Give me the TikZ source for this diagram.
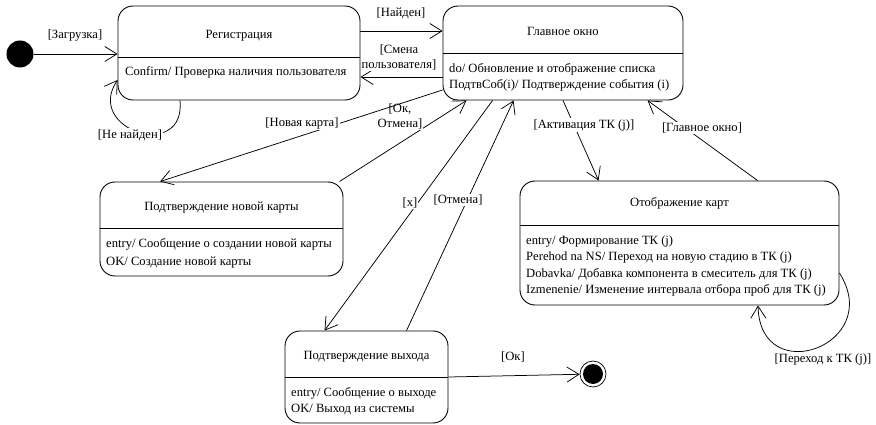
\documentclass[tikz,border=0pt]{standalone}
\usepackage{fontspec}
\setmainfont{Liberation Serif}
\usetikzlibrary{arrows.meta}

\begin{document}
\begin{tikzpicture}[x=1pt,y=-1pt,
  state/.style={draw, line width=0.9pt, rounded corners=15pt, inner sep=0pt},
  divider/.style={line width=0.9pt},
  txt/.style={font=\fontsize{12.6}{15}\selectfont, inner sep=0pt},
  lbl/.style={font=\fontsize{12.6}{15}\selectfont, inner sep=1pt, fill=white, align=center},
  tr/.style={line width=0.75pt, -{Straight Barb[length=12pt,width=15pt]}},
]
\useasboundingbox (0,0) rectangle (876,425);

% ---------- states ----------
\node[circle, fill, minimum size=27pt, inner sep=0pt] (init) at (20,54) {};

\node[state, minimum width=242pt, minimum height=94pt] (reg) at (239,53) {};
\draw[divider] (reg.west |- 0,57) -- (reg.east |- 0,57);
\node[txt, anchor=base] (regT) at (239,39) {Регистрация};
\node[txt, anchor=base west] (regB) at (125,76) {Confirm/ Проверка наличия пользователя};

\node[state, minimum width=240pt, minimum height=94pt] (main) at (563,53) {};
\draw[divider] (main.west |- 0,53) -- (main.east |- 0,53);
\node[txt, anchor=base] (mainT) at (563,36) {Главное окно};
\node[txt, anchor=base west] (mainB1) at (449,73) {do/ Обновление и отображение списка};
\node[txt, anchor=base west] (mainB2) at (449,89) {ПодтвСоб(i)/ Подтверждение события (i)};

\node[state, minimum width=243pt, minimum height=94pt] (card) at (221.5,229) {};
\draw[divider] (card.west |- 0,228) -- (card.east |- 0,228);
\node[txt, anchor=base] (cardT) at (221.5,211) {Подтверждение новой карты};
\node[txt, anchor=base west] (cardB1) at (106,247) {entry/ Сообщение о создании новой карты};
\node[txt, anchor=base west] (cardB2) at (106,265) {OK/ Создание новой карты};

\node[state, minimum width=319pt, minimum height=124pt] (disp) at (679.5,243) {};
\draw[divider] (disp.west |- 0,225) -- (disp.east |- 0,225);
\node[txt, anchor=base] (dispT) at (679.5,207) {Отображение карт};
\node[txt, anchor=base west] (dispB1) at (526,244) {entry/ Формирование ТК (j)};
\node[txt, anchor=base west] (dispB2) at (526,260.5) {Perehod na NS/ Переход на новую стадию в ТК (j)};
\node[txt, anchor=base west] (dispB3) at (526,277) {Dobavka/ Добавка компонента в смеситель для ТК (j)};
\node[txt, anchor=base west] (dispB4) at (526,293.5) {Izmenenie/ Изменение интервала отбора проб для ТК (j)};

\node[state, minimum width=163pt, minimum height=92pt] (exit) at (366.5,377) {};
\draw[divider] (exit.west |- 0,377) -- (exit.east |- 0,377);
\node[txt, anchor=base] (exitT) at (366.5,359) {Подтверждение выхода};
\node[txt, anchor=base west] (exitB1) at (291,396) {entry/ Сообщение о выходе};
\node[txt, anchor=base west] (exitB2) at (291,412) {OK/ Выход из системы};

\node[circle, draw, line width=0.7pt, minimum size=26pt, inner sep=0pt] (fin) at (593,374) {};
\fill (fin.center) circle (10pt);

% ---------- transitions ----------
\draw[tr] (init.east) -- (init.east -| reg.west);
\node[lbl] (lLoad) at (75,35) {[Загрузка]};

\draw[tr] ([yshift=22pt]reg.east) -- ([yshift=22pt]main.west);
\node[lbl] (lFound) at (401,13) {[Найден]};

\draw[tr] ([yshift=-24pt]main.west) -- ([yshift=-24pt]reg.east);
\node[lbl] (lChange) at (399,57) {[Смена\\пользователя]};

\draw[tr] ([xshift=-59pt]reg.south) .. controls (186,162) and (84,130) .. ([yshift=-27pt]reg.west);
\node[lbl] (lNotFound) at (130,135) {[Не найден]};

\draw[tr] ([xshift=-4pt]card.north east) -- ([xshift=24pt]main.south west);
\node[lbl] (lOkCancel) at (400,116) {[Ок,\\Отмена]};

\draw[tr] ([yshift=-37pt]main.west) -- ([xshift=-61.5pt]card.north);
\node[lbl] (lNewCard) at (302,123) {[Новая карта]};

\draw[tr] ([xshift=50pt]main.south west) -- ([xshift=40pt]exit.north west);
\node[lbl] (lX) at (410,203) {[x]};

\draw[tr] ([xshift=122pt]exit.north west) -- ([xshift=71pt]main.south west);
\node[lbl] (lCancel) at (458,200) {[Отмена]};

\draw[tr] (main.south) -- ([xshift=79pt]disp.north west);
\node[lbl] (lActivate) at (584,125) {[Активация ТК (j)]};

\draw[tr] ([xshift=238pt]disp.north west) -- ([xshift=205pt]main.south west);
\node[lbl] (lMain) at (702,128) {[Главное окно]};

\draw[tr] ([yshift=-30pt]disp.east) .. controls (885,345) and (760,390) .. ([xshift=78.5pt]disp.south);
\node[lbl] (lGoTo) at (823,359) {[Переход к ТК (j)]};

\draw[tr] (exit.east) -- (fin);
\node[lbl] (lOk) at (513,357) {[Ок]};

\end{tikzpicture}
\end{document}
